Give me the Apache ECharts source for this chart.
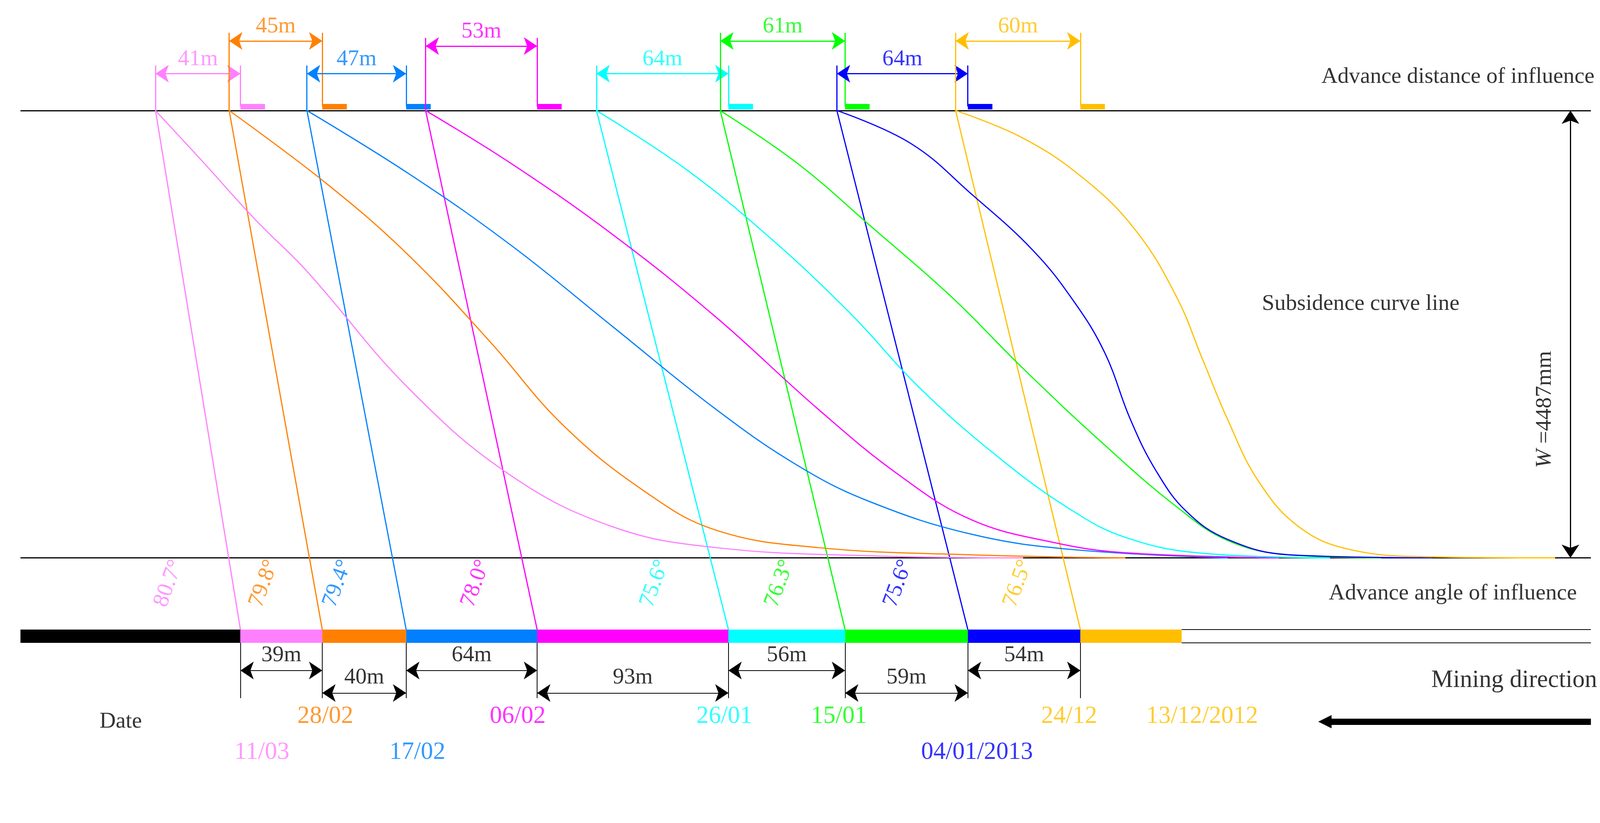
<!DOCTYPE html>
<html><head><meta charset="utf-8">
<script src="https://cdn.jsdelivr.net/npm/echarts@6/dist/echarts.min.js"></script>
<style>html,body{margin:0;padding:0;background:#fff}#c{width:4222px;height:2106px}</style>
</head><body><div id="c"></div>
<script>
// diagram units: x along the panel, y downward
var colors = ['#ff80ff', '#ff8000', '#0080ff', '#ff00ff', '#00ffff', '#00ff00', '#0000ff', '#ffbf00'];
var curveStart = [152, 224, 300, 416, 583, 704, 818, 934];
var segStart = [235, 315, 397, 525, 712, 826, 946, 1056];
var segEnd = [315, 397, 525, 712, 826, 946, 1056, 1155];
var advDist = ['41m', '45m', '47m', '53m', '64m', '61m', '64m', '60m'];
var bracketY = [72, 40, 72, 45, 72, 40, 72, 40];
var stepDist = ['39m', '40m', '64m', '93m', '56m', '59m', '54m'];
var angles = ['80.7°', '79.8°', '79.4°', '78.0°', '75.6°', '76.3°', '75.6°', '76.5°'];
var angleX = [165, 258, 330, 465, 640, 762, 878, 995];
var dates = ['11/03', '28/02', '17/02', '06/02', '26/01', '15/01', '04/01/2013', '24/12', '13/12/2012'];
var dateX = [256, 318, 408, 506, 708, 820, 955, 1045, 1175];
var dateY = [735, 700, 735, 700, 700, 700, 735, 700, 700];
var dateCol = ['#ff80ff', '#ff8000', '#0080ff', '#ff00ff', '#00ffff', '#00ff00', '#0000ff', '#ffbf00', '#ffbf00'];
var curves = [
  [[152,108],[200,160],[250,215],[300,265],[400,380],[500,465],[600,515],[700,535],[850,543],[1000,545]],
  [[224,108],[320,180],[400,250],[480,335],[550,415],[630,480],[700,518],[800,535],[950,542],[1100,545]],
  [[300,108],[400,170],[500,240],[600,320],[700,400],[780,455],[850,490],[950,522],[1050,537],[1200,545]],
  [[416,108],[500,160],[600,230],[700,310],[800,400],[880,465],[950,508],[1030,530],[1100,540],[1250,545]],
  [[583,108],[670,165],[750,230],[830,305],[900,380],[980,450],[1050,500],[1100,525],[1170,540],[1300,545]],
  [[704,108],[780,160],[850,220],[930,290],[1000,360],[1080,435],[1150,495],[1200,528],[1260,542],[1350,545]],
  [[818,108],[890,140],[950,190],[1010,245],[1050,295],[1080,345],[1105,410],[1130,460],[1160,500],[1200,527],[1260,542],[1400,545]],
  [[934,108],[1000,135],[1060,175],[1110,225],[1150,290],[1175,350],[1200,410],[1230,470],[1270,515],[1320,537],[1400,544],[1520,545]]
];

var F = 'Liberation Serif';
var S = 2.62;
var segs = [], texts = [], lineSeries = [];
function seg(a, b, col, w, sym) {
  segs.push({coords: [a, b], lineStyle: {color: col, width: w || 3, opacity: 1}, symbol: sym || ['none', 'none']});
}
function txt(x, y, s, col, size, rot) {
  texts.push({value: [x, y], label: {show: true, formatter: s, color: col, fontSize: (size || 22) * S, fontFamily: F, rotate: rot || 0}});
}
var arr2 = ['arrow', 'arrow'];
seg([20, 108], [1555, 108], '#000', 3);
seg([20, 545], [1555, 545], '#000', 3);
seg([1535, 108], [1535, 545], '#000', 3, arr2);
seg([20, 621.5], [235, 621.5], '#000', 34);
for (var i = 0; i < 8; i++) seg([segStart[i], 621.5], [segEnd[i], 621.5], colors[i], 34);
seg([1155, 615], [1555, 615], '#000', 2);
seg([1155, 628], [1555, 628], '#000', 2);
for (var i = 0; i < 8; i++) {
  var c = colors[i];
  seg([curveStart[i], 108], [segStart[i], 615], c, 3);
  seg([curveStart[i], 108], [curveStart[i], bracketY[i] - 8], c, 3);
  seg([segStart[i], 104], [segStart[i], bracketY[i] - 8], c, 3);
  seg([curveStart[i], bracketY[i]], [segStart[i], bracketY[i]], c, 3, arr2);
  seg([segStart[i], 104], [segStart[i] + 24, 104], c, 14);
  txt((curveStart[i] + segStart[i]) / 2, bracketY[i] - 14, advDist[i], c, 22);
  txt(angleX[i], 570, angles[i], c, 22, 70);
  lineSeries.push({type: 'line', data: curves[i], smooth: 0.4, symbol: 'none', lineStyle: {color: c, width: 3}, z: 3});
}
for (var i = 0; i < 8; i++) seg([segStart[i], 628], [segStart[i], 682], '#000', 2);
for (var i = 0; i < 7; i++) {
  var y = i % 2 ? 677 : 655;
  seg([segStart[i], y], [segStart[i + 1], y], '#000', 2, arr2);
  txt((segStart[i] + segStart[i + 1]) / 2, y - 15, stepDist[i], '#000', 22);
}
txt(118, 705, 'Date', '#000', 22);
for (var i = 0; i < dates.length; i++) txt(dateX[i], dateY[i], dates[i], dateCol[i], 24);
txt(1480, 665, 'Mining direction', '#000', 24);
seg([1555, 705], [1295, 705], '#000', 16, ['none', 'triangle']);
txt(1425, 75, 'Advance distance of influence', '#000', 22);
txt(1330, 297, 'Subsidence curve line', '#000', 22);
txt(1420, 580, 'Advance angle of influence', '#000', 22);
txt(1510, 400, '{i|W} =4487mm', '#000', 22, 90);
texts[texts.length - 1].label.rich = {i: {fontStyle: 'italic', fontSize: 22 * S, fontFamily: F}};

var chart = echarts.init(document.getElementById('c'));
chart.setOption({
  animation: false,
  backgroundColor: '#fff',
  grid: {left: 0, right: 0, top: 0, bottom: 0},
  xAxis: {type: 'value', min: 0, max: 1612, show: false},
  yAxis: {type: 'value', min: 0, max: 804, inverse: true, show: false},
  series: lineSeries.concat([
    {type: 'lines', coordinateSystem: 'cartesian2d', data: segs, symbolSize: 34, z: 2},
    {type: 'scatter', data: texts, symbolSize: 0, z: 5, label: {position: 'inside'}}
  ])
});
</script></body></html>
